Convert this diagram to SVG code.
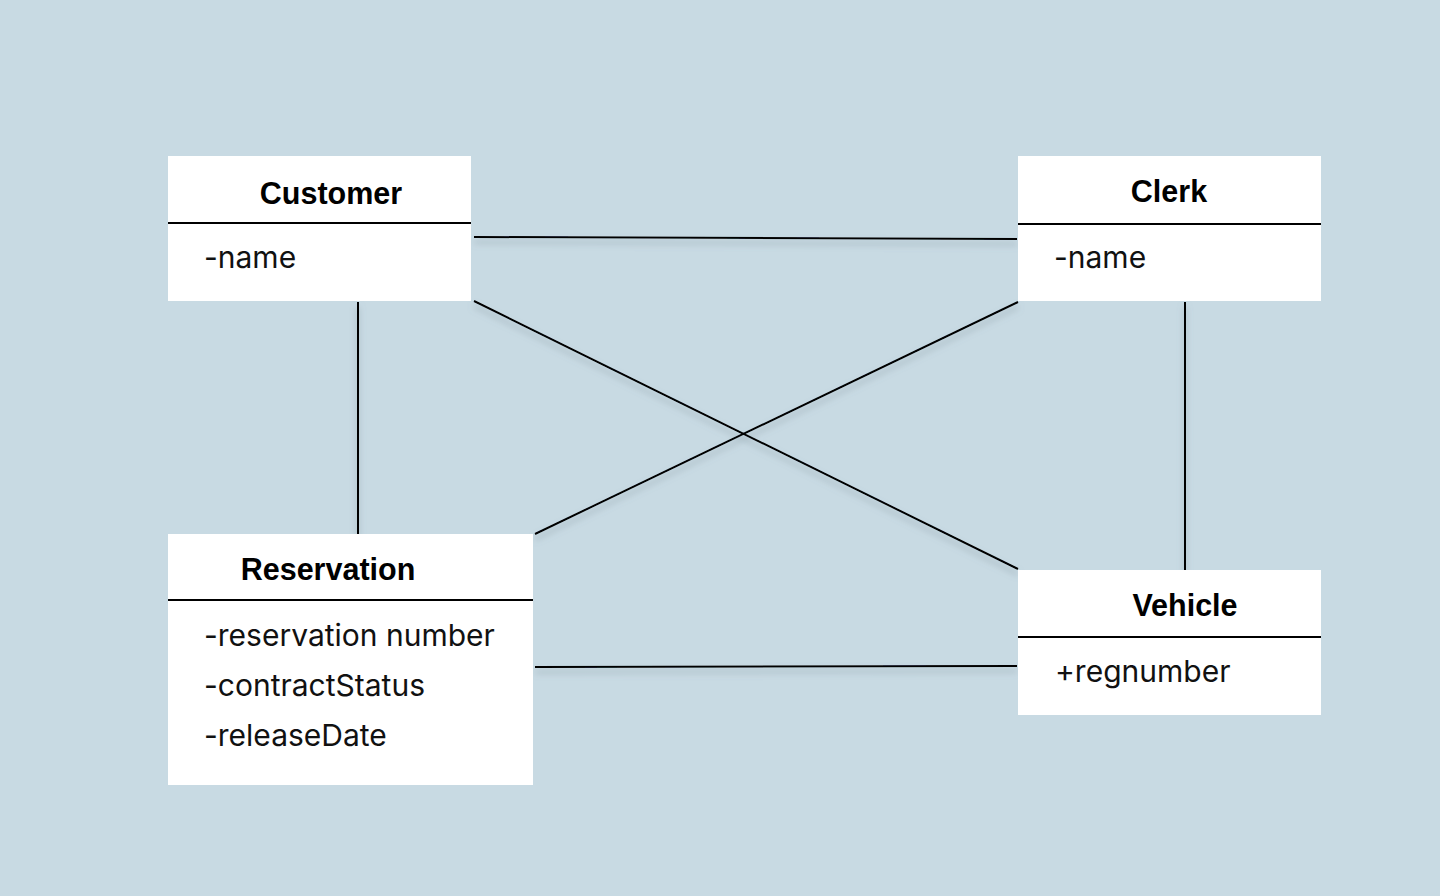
<svg xmlns="http://www.w3.org/2000/svg" width="1440" height="896" viewBox="0 0 1440 896">
<defs>
<filter id="sh" x="-10%" y="-10%" width="120%" height="120%" filterUnits="userSpaceOnUse">
<feGaussianBlur in="SourceAlpha" stdDeviation="3"/>
<feOffset dx="0" dy="5" result="b"/>
<feFlood flood-color="#7d8f99" flood-opacity="0.6"/>
<feComposite in2="b" operator="in"/>
<feMerge><feMergeNode/><feMergeNode in="SourceGraphic"/></feMerge>
</filter>
<style>
.box{fill:#ffffff}
.div{stroke:#000;stroke-width:2}
.t{font-family:"Liberation Sans",Arial,sans-serif;font-weight:700;font-size:30.5px;fill:#000;text-anchor:middle}
.a{font-family:Inter,"Liberation Sans",sans-serif;font-size:30px;fill:#111}
.c line{stroke:#000;stroke-width:2}
</style>
</defs>
<rect width="1440" height="896" fill="#c8dae3"/>
<g id="connectors" class="c" filter="url(#sh)">
<line x1="474" y1="237" x2="1017" y2="239"/>
<line x1="358" y1="302" x2="358" y2="534"/>
<line x1="474" y1="301" x2="1018" y2="569"/>
<line x1="1018" y1="302" x2="535" y2="534"/>
<line x1="1185" y1="302" x2="1185" y2="570"/>
<line x1="535" y1="667" x2="1017" y2="666"/>
</g>
<g id="customer">
<rect class="box" x="168" y="156" width="303" height="145"/>
<line class="div" x1="168" y1="223" x2="471" y2="223"/>
<text class="t" x="331" y="204">Customer</text>
<text class="a" x="204" y="268">-name</text>
</g>
<g id="clerk">
<rect class="box" x="1018" y="156" width="303" height="145"/>
<line class="div" x1="1018" y1="224" x2="1321" y2="224"/>
<text class="t" x="1169" y="202">Clerk</text>
<text class="a" x="1054" y="268">-name</text>
</g>
<g id="reservation">
<rect class="box" x="168" y="534" width="365" height="251"/>
<line class="div" x1="168" y1="600" x2="533" y2="600"/>
<text class="t" x="328" y="580">Reservation</text>
<text class="a" x="204" y="646">-reservation number</text>
<text class="a" x="204" y="696">-contractStatus</text>
<text class="a" x="204" y="746">-releaseDate</text>
</g>
<g id="vehicle">
<rect class="box" x="1018" y="570" width="303" height="145"/>
<line class="div" x1="1018" y1="637" x2="1321" y2="637"/>
<text class="t" x="1185" y="616">Vehicle</text>
<text class="a" x="1055" y="682">+regnumber</text>
</g>
</svg>
